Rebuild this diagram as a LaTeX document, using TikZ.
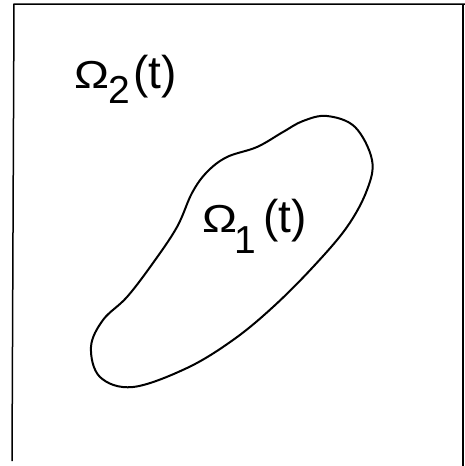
\documentclass[tikz,border=0pt]{standalone}
\usepackage{fontspec}
\setmainfont{Liberation Sans}
\newcommand{\omg}{\scalebox{1.2}[1]{Ω}}
\begin{document}
\begin{tikzpicture}[x=1pt,y=-1pt,
  lbl/.style={anchor=base west,inner sep=0pt,outer sep=0pt},
  big/.style={font=\fontsize{39}{42}\selectfont},
  par/.style={font=\fontsize{46}{48}\selectfont}]
\useasboundingbox (0,0) rectangle (465,466);
% frame
\draw[line width=1.5pt] (12,461) -- (14,4) -- (465,4);
\draw[line width=1.5pt] (463,4) -- (463,466);
% blob
\draw[line width=2pt] plot[smooth cycle,tension=0.6] coordinates {
 (327,116) (355,127) (372,160) (367,190) (347,227) (313,267) (273,307)
 (233,340) (187,368) (133,387) (100,377) (91,347) (103,320) (127,297)
 (153,263) (177,227) (192,193) (207,172) (227,157) (257,147) (283,132) (303,121)};
% labels
\node[lbl,big] (o2) at (74,88) {\omg};
\node[lbl,big] (s2) at (108,103) {2};
\node[lbl,par] (t2) at (133,88) {(t)};
\node[lbl,big] (o1) at (202,232) {\omg};
\node[lbl,big] (s1) at (234,253) {1};
\node[lbl,par] (t1) at (263,232) {(t)};
\end{tikzpicture}
\end{document}
